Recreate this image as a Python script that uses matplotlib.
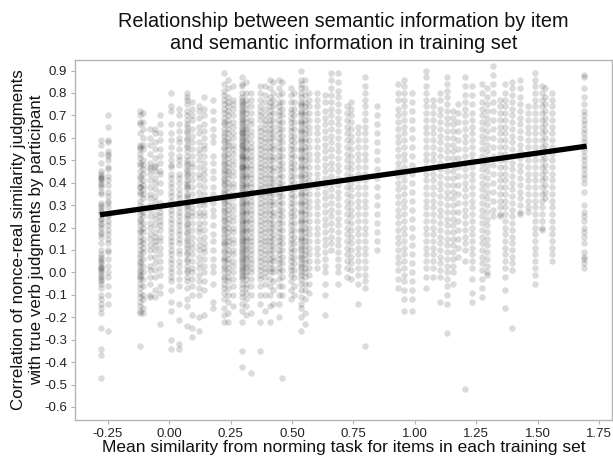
import numpy as np
import matplotlib
matplotlib.use("Agg")
import matplotlib.pyplot as plt

# x position (mean similarity of training set) of each strip of points
strip_x = [-0.280, -0.250, -0.119, -0.107, -0.079, -0.060, -0.036, 0.007, 0.041, 0.071,
           0.092, 0.121, 0.141, 0.179, 0.223, 0.240, 0.261, 0.296, 0.312, 0.333,
           0.369, 0.388, 0.410, 0.424, 0.447, 0.461, 0.496, 0.508, 0.538, 0.553,
           0.571, 0.600, 0.636, 0.657, 0.689, 0.723, 0.740, 0.770, 0.799, 0.845,
           0.930, 0.958, 0.987, 1.046, 1.075, 1.103, 1.130, 1.157, 1.177, 1.204,
           1.232, 1.273, 1.293, 1.320, 1.347, 1.368, 1.396, 1.429, 1.462, 1.490,
           1.518, 1.530, 1.558, 1.691]

# correlations per participant in each strip (in hundredths)
strip_y_hundredths = [
    [59,57,53,49,45,44,43,42,42,41,40,39,38,36,35,31,30,29,28,27,26,24,24,22,21,20,18,17,16,13,10,8,7,6,5,4,3,2,2,1,0,-1,-2,-3,-4,-5,-7,-10,-12,-14,-16,-18,-25,-34,-37,-47],
    [70,65,59,58,54,53,52,50,47,46,43,41,39,36,34,32,31,29,26,25,23,21,19,17,15,13,10,9,6,3,0,-2,-6,-10,-14,-26],
    [72,70,67,66,62,57,56,55,53,51,49,48,45,43,42,40,38,38,36,35,32,30,28,26,24,23,21,19,18,16,14,12,10,8,7,5,4,3,1,0,-1,-2,-3,-5,-7,-9,-11,-13,-15,-17,-18,-33],
    [71,67,64,60,57,55,50,48,46,44,41,39,37,35,33,29,27,25,22,20,18,15,13,11,9,6,3,0,-3,-6,-10,-12,-16,-18],
    [64,60,57,53,49,47,46,44,41,38,35,33,30,28,25,22,20,17,15,12,10,7,3,1,-2,-5,-10,-11],
    [64,62,58,55,51,48,47,45,42,40,37,34,32,29,26,24,21,18,16,14,12,10,7,4,1,-2,-8,-11],
    [70,66,62,59,55,52,49,45,44,40,36,31,29,27,25,23,21,19,16,14,11,8,5,2,-1,-6,-9,-23],
    [80,74,72,66,62,59,56,53,50,48,47,44,42,40,38,36,34,32,30,28,26,24,22,20,18,16,14,12,10,8,6,4,2,0,-2,-4,-8,-13,-17,-30,-34],
    [73,70,66,63,60,58,55,52,50,48,44,42,40,37,35,33,31,29,27,25,23,21,19,17,15,13,10,8,5,3,0,-3,-6,-14,-21,-32,-34],
    [80,78,77,75,72,70,68,66,65,63,62,60,59,57,56,54,52,50,49,48,46,45,44,43,41,40,39,38,37,35,34,33,31,30,29,28,26,25,24,22,21,20,18,17,15,14,12,11,9,8,6,5,3,1,0,-2,-4,-7,-12,-15,-24],
    [76,73,70,68,64,61,58,55,52,49,47,44,41,38,35,32,29,27,25,22,19,16,13,11,8,5,2,0,-3,-6,-10,-19,-25,-29],
    [74,72,69,65,62,58,55,53,50,47,44,42,39,36,33,30,27,25,22,20,18,15,12,10,7,4,2,-1,-4,-7,-10,-20,-26],
    [78,73,70,66,63,60,57,55,52,49,46,44,41,38,35,32,30,27,25,22,19,16,13,11,9,6,3,0,-4,-8,-19],
    [77,72,68,64,61,58,52,49,45,42,38,35,31,28,25,21,17,14,10,6,3,0,-5,-13,-16],
    [89,84,81,79,77,75,73,71,69,67,66,64,62,61,59,58,56,55,53,52,50,49,48,46,45,44,42,41,40,39,37,36,35,33,32,31,29,28,27,25,24,23,21,20,19,17,16,14,13,12,10,9,7,6,5,3,2,0,-2,-3,-5,-7,-9,-12,-16,-19,-22],
    [86,82,78,76,74,72,70,68,66,64,62,60,58,57,55,53,51,49,47,45,44,42,40,38,36,34,32,30,28,26,24,22,20,18,16,14,12,10,8,6,4,2,0,-2,-4,-7,-10,-13,-18,-22],
    [83,77,75,73,70,67,65,62,60,57,55,53,50,48,45,43,40,38,35,33,30,28,25,23,20,18,15,13,10,8,5,3,0,-3,-6,-10,-15],
    [87,84,83,80,78,77,76,75,74,73,72,71,70,69,68,67,66,65,64,63,62,62,61,60,59,58,57,57,56,55,54,53,52,52,51,50,49,48,47,47,46,45,44,43,42,41,40,39,38,37,36,35,34,33,32,31,30,29,28,27,26,25,24,23,22,21,20,19,18,17,16,15,14,13,12,11,10,9,8,7,6,5,4,3,2,1,0,-1,-2,-3,-5,-7,-9,-11,-14,-17,-22,-35,-42],
    [85,80,77,75,73,71,69,67,65,64,62,61,59,58,56,55,54,52,51,50,48,47,46,44,43,42,40,39,38,36,35,34,32,31,30,28,27,26,24,23,22,20,19,18,16,15,14,12,11,10,8,7,6,4,3,2,0,-1,-3,-5,-7,-9,-12,-15,-19],
    [80,77,74,71,68,66,63,61,58,56,54,52,50,48,46,44,42,40,38,36,34,32,30,28,26,24,22,20,18,16,14,12,10,8,6,4,2,0,-3,-6,-10,-18,-45],
    [83,80,77,74,72,70,68,65,63,61,59,57,55,53,51,49,47,45,43,41,39,37,35,33,31,29,27,25,23,21,19,17,15,13,11,9,7,5,3,1,-1,-3,-6,-10,-14,-22,-35],
    [83,79,76,73,70,68,66,64,62,60,58,56,54,52,50,48,46,44,42,40,38,36,34,32,30,28,26,24,22,20,18,16,14,12,10,8,6,4,2,0,-2,-5,-10,-17],
    [86,82,78,76,74,72,70,68,66,64,62,60,58,56,54,52,50,48,46,44,42,40,38,36,34,32,30,28,26,24,22,20,18,16,14,12,10,8,6,4,2,0,-3,-6,-10,-15,-22],
    [85,80,77,74,71,68,65,62,60,57,55,52,50,47,45,42,40,37,35,32,30,27,25,22,20,17,15,12,10,7,5,2,0,-4,-8,-14],
    [86,82,79,76,74,72,70,68,66,64,62,60,58,56,54,52,50,48,46,44,42,40,38,36,34,32,30,28,26,24,22,20,18,16,14,12,10,8,6,4,2,0,-3,-6,-10,-14,-20],
    [85,80,76,73,70,67,64,61,58,55,52,49,46,43,40,37,34,31,28,25,22,19,16,13,10,7,4,1,-2,-6,-10,-47],
    [82,79,76,73,71,69,67,65,63,61,59,57,55,53,51,49,47,45,43,41,39,37,35,33,31,29,27,25,23,21,19,17,15,13,11,9,7,5,3,1,-1,-4,-8,-12],
    [80,76,73,70,67,64,61,58,55,52,49,46,43,40,37,34,31,28,25,22,19,16,13,10,7,4,1,-2,-6,-10],
    [90,86,84,82,80,78,76,75,74,72,71,70,68,67,66,64,63,62,60,59,58,56,55,54,52,51,50,48,47,46,44,43,42,40,39,38,36,35,34,32,31,30,28,27,26,24,23,22,20,19,18,16,15,14,12,11,10,8,7,6,4,3,2,0,-1,-3,-5,-8,-11,-14,-16,-20,-26],
    [86,82,79,76,74,72,70,68,66,64,62,60,58,56,54,52,50,48,46,44,42,40,38,36,34,32,30,28,26,24,22,20,18,16,14,12,10,8,6,4,2,0,-2,-5,-8,-12,-18,-23],
    [80,77,74,71,68,65,62,59,56,53,50,47,44,41,38,35,32,29,26,23,20,17,14,11,8,5,2,-1,-5,-9],
    [80,77,74,71,68,65,62,59,56,53,50,47,44,41,38,35,32,29,26,23,20,17,14,11,8,5,2],
    [79,76,72,69,66,63,60,57,54,51,48,45,42,39,36,33,30,27,24,21,18,15,12,9,6,3,0,-5,-10,-19],
    [89,86,82,79,76,73,70,67,64,61,58,55,52,49,46,43,40,37,34,31,28,25,22,19,16,13,10],
    [89,85,81,78,75,72,69,66,63,60,57,54,51,48,45,42,39,36,33,30,27,24,21,18,15,12,9,6,3,0,-5],
    [74,71,68,65,62,59,56,53,50,47,44,41,38,35,32,29,26,23,20,17,14,11,8,5,2,-2],
    [76,73,70,67,64,61,58,55,52,49,46,43,40,37,34,31,28,25,22,19,16,13,10,7,4,1,-3],
    [65,62,59,56,53,50,47,44,41,38,35,32,29,26,23,20,17,14,11,8,5,2,-1,-5,-14],
    [87,83,80,77,74,71,68,65,62,59,56,53,50,47,44,41,38,35,32,29,26,23,20,17,14,11,8,5,2,-1,-4,-7,-33],
    [74,70,66,62,58,54,50,46,42,38,34,30,26,22,18,14,10],
    [84,80,77,73,70,67,64,61,58,55,52,49,46,43,40,37,34,31,28,25,22,19,16,13,10,7,4,1,-3,-7],
    [86,83,80,77,74,71,68,65,62,59,56,53,50,47,44,41,38,35,32,29,26,23,20,17,14,11,8,5,2,-1,-4,-8,-12,-17],
    [80,76,72,68,64,60,56,52,48,44,40,36,32,28,24,20,16,12,8,4,0,-4,-8,-12,-17],
    [90,87,83,80,77,74,71,68,65,62,59,56,53,50,47,44,41,38,35,32,29,26,23,20,17,14,11,8,5,2,-2,-7],
    [77,74,71,68,65,62,59,56,53,50,47,44,41,38,35,32,29,26,23,20,17,14,11,8,5,2,-2],
    [80,77,73,70,67,64,61,58,55,52,49,46,43,40,37,34,31,28,25,22,19,16,13,10,7,4,1,-2,-13],
    [87,84,81,78,75,72,69,66,63,60,57,54,51,48,45,42,39,36,33,30,27,24,21,18,15,12,9,6,3,0,-3,-6,-10,-14,-27],
    [72,69,66,63,60,57,54,51,48,45,42,39,36,33,30,27,24,21,18,15,12,9,6,3,0,-5],
    [75,71,67,63,59,55,51,47,43,39,35,31,27,23,19,15,11,7],
    [87,83,79,76,73,70,67,64,61,58,55,52,49,46,43,40,37,34,31,28,25,22,19,16,13,10,5,-52],
    [83,79,75,71,68,65,62,59,56,53,50,47,44,41,38,35,32,29,26,23,20,17,14,11,8,5,2,-3,-9,-13],
    [84,80,76,73,70,67,64,61,58,55,52,49,46,43,40,37,34,31,28,25,22,19,16,13,10,7,4,1,-3,-7,-11],
    [82,78,75,72,69,66,63,60,57,54,51,48,45,42,39,36,33,30,27,24,21,18,15,12,9,6,3,0,-1],
    [92,88,84,80,76,72,68,64,60,56,52,48,44,40,36,32,28,25],
    [77,74,71,68,65,62,59,56,53,50,47,44,41,38,35,32,29,26,25],
    [84,80,77,74,71,68,65,62,59,56,53,50,47,44,41,38,35,32,29,26,23,20,17,14,11,8,5,2,-2,-8,-16],
    [85,82,79,76,73,70,67,64,61,58,55,52,49,46,43,40,37,34,31,28,25,22,19,16,13,10,7,4,1,-25],
    [86,82,78,75,72,69,66,63,60,57,54,51,48,45,42,39,36,33,30,27,26],
    [74,71,68,65,62,59,56,53,50,47,44,41,38,35,32,29,27],
    [89,86,83,80,77,74,71,68,65,62,59,56,53,50,47,44,41,38,35,32,29,26,23,20,17,14,11,8,5,2,-1,-5],
    [83,80,77,74,71,68,65,62,59,56,53,50,47,44,41,38,35,32,29,26,23,20,19],
    [82,78,75,72,69,66,63,60,57,54,51,48,45,42,39,36,33],
    [80,77,74,71,68,65,62,59,56,53,50,47,44,41,38,35,32,29,26,23,20,17,14,11,8,5],
    [88,87,82,78,75,72,70,68,66,64,62,60,58,56,54,52,50,48,46,44,42,40,36,30,27,25,23,20,18,16,13,9,7,6,4,2],
]

# fitted regression line end points
fit_x = [-0.282, 1.700]
fit_y = [0.257, 0.563]

x_ticks = [-0.25, 0.00, 0.25, 0.50, 0.75, 1.00, 1.25, 1.50, 1.75]
y_ticks = [0.9, 0.8, 0.7, 0.6, 0.5, 0.4, 0.3, 0.2, 0.1, 0.0, -0.1, -0.2, -0.3, -0.4, -0.5, -0.6]

plt.rcParams['font.family'] = ['Liberation Sans', 'DejaVu Sans']

fig = plt.figure(figsize=(6.13, 4.58), dpi=100)
ax = fig.add_axes([75/613, 1-420/458, (611.7-75)/613, (420-60)/458])

xs, ys = [], []
for xv, yl in zip(strip_x, strip_y_hundredths):
    for v in yl:
        xs.append(xv)
        ys.append(v / 100.0)
ax.scatter(xs, ys, s=22, color='black', alpha=0.14, linewidths=0, zorder=1)
ax.plot(fit_x, fit_y, color='black', linewidth=3.8, solid_capstyle='butt', zorder=2)

ax.set_xlim(-0.384, 1.802)
ax.set_ylim(-0.658, 0.947)
ax.set_xticks(x_ticks)
ax.set_xticklabels([f"{t:.2f}" for t in x_ticks])
ax.set_yticks(y_ticks)
ax.set_yticklabels([f"{t:.1f}" for t in y_ticks])

for sp in ax.spines.values():
    sp.set_color('#b5b5b5')
    sp.set_linewidth(1.0)
ax.tick_params(axis='both', colors='#b5b5b5', labelcolor='#222222', labelsize=9.5, length=3, width=0.8, pad=2.5)

ax.set_xlabel("Mean similarity from norming task for items in each training set", fontsize=12.5, color='#111111', labelpad=0)
ax.set_ylabel("Correlation of nonce-real similarity judgments\nwith true verb judgments by participant", fontsize=12.2, color='#111111', labelpad=0, linespacing=1.3)
ax.set_title("Relationship between semantic information by item\nand semantic information in training set", fontsize=14.3, color='#111111', pad=8, linespacing=1.2)

fig.savefig("out.png", dpi=100)
